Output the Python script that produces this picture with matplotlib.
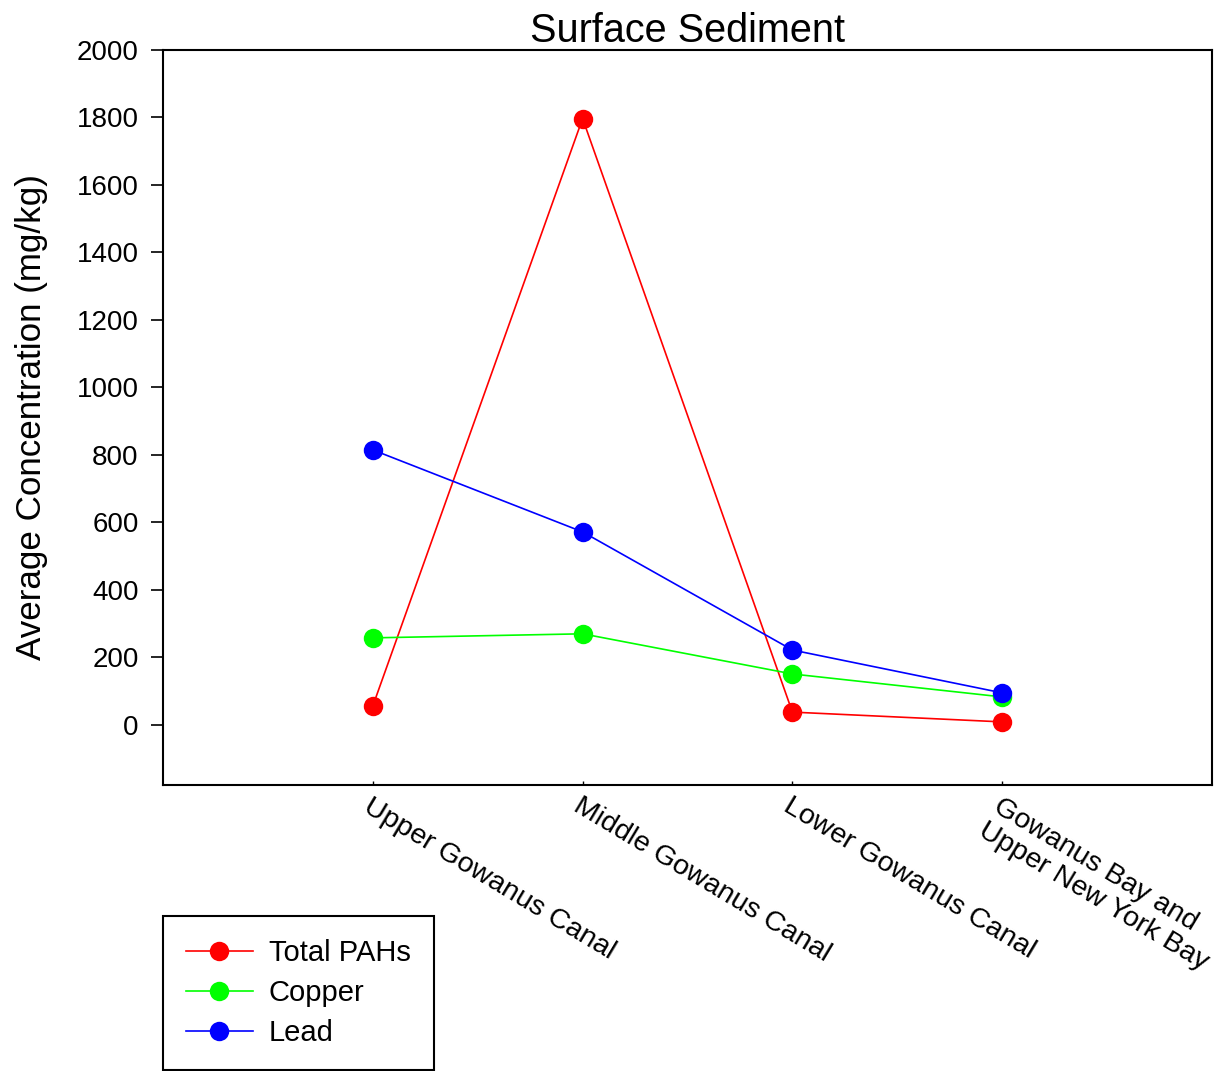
import matplotlib
matplotlib.use("Agg")
import matplotlib.pyplot as plt
from matplotlib.transforms import ScaledTranslation

plt.rcParams['font.family'] = ['Liberation Sans', 'DejaVu Sans']

categories = ["Upper Gowanus Canal", "Middle Gowanus Canal", "Lower Gowanus Canal",
              "Gowanus Bay and\nUpper New York Bay"]
pahs = [56, 1797, 38, 9]
copper = [258, 270, 151, 83]
lead = [815, 572, 222, 95]
series_names = ["Total PAHs", "Copper", "Lead"]
yticks = [0, 200, 400, 600, 800, 1000, 1200, 1400, 1600, 1800, 2000]

W, H = 1217, 1071
fig = plt.figure(figsize=(W / 100, H / 100), dpi=100)
ax = fig.add_axes([163 / W, 1 - 785 / H, (1212 - 163) / W, (785 - 50) / H])

x = list(range(1, len(categories) + 1))
colors = ['#ff0000', '#00ff00', '#0000ff']
handles = []
for vals, c, name in zip([pahs, copper, lead], colors, series_names):
    h, = ax.plot(x, vals, color=c, lw=1.2, marker='o', markersize=14,
                 markeredgewidth=0, label=name, clip_on=False)
    handles.append(h)

ax.set_xlim(0, 5)
ax.set_ylim(-178, 2000)
ax.set_yticks(yticks)
ax.set_yticklabels([str(v) for v in yticks], fontsize=20)
ax.set_xticks(x)
ax.set_xticklabels(categories, fontsize=20.5, rotation=-31, ha='left', va='top',
                   rotation_mode='anchor', linespacing=1.1)
off = ScaledTranslation(-25 / 100, 0, fig.dpi_scale_trans)
for lab in ax.get_xticklabels():
    lab.set_transform(lab.get_transform() + off)

ax.tick_params(axis='y', direction='out', length=8.5, width=1.2, pad=9)
ax.tick_params(axis='x', direction='in', length=3, width=1.0, pad=6)
for s in ax.spines.values():
    s.set_linewidth(1.5)

ax.set_ylabel("Average Concentration (mg/kg)", fontsize=25.2, labelpad=21)
ax.set_title("Surface Sediment", fontsize=28.5, pad=6)

leg = fig.legend(handles=handles, labels=series_names, loc='upper left',
                 bbox_to_anchor=(163 / W, 1 - 916 / H), fontsize=21,
                 frameon=True, fancybox=False, edgecolor='black', framealpha=1,
                 handlelength=2.3, handletextpad=0.55, labelspacing=0.42,
                 borderpad=0.78, borderaxespad=0)
leg.get_frame().set_linewidth(1.5)

fig.savefig("out.png", dpi=100)
